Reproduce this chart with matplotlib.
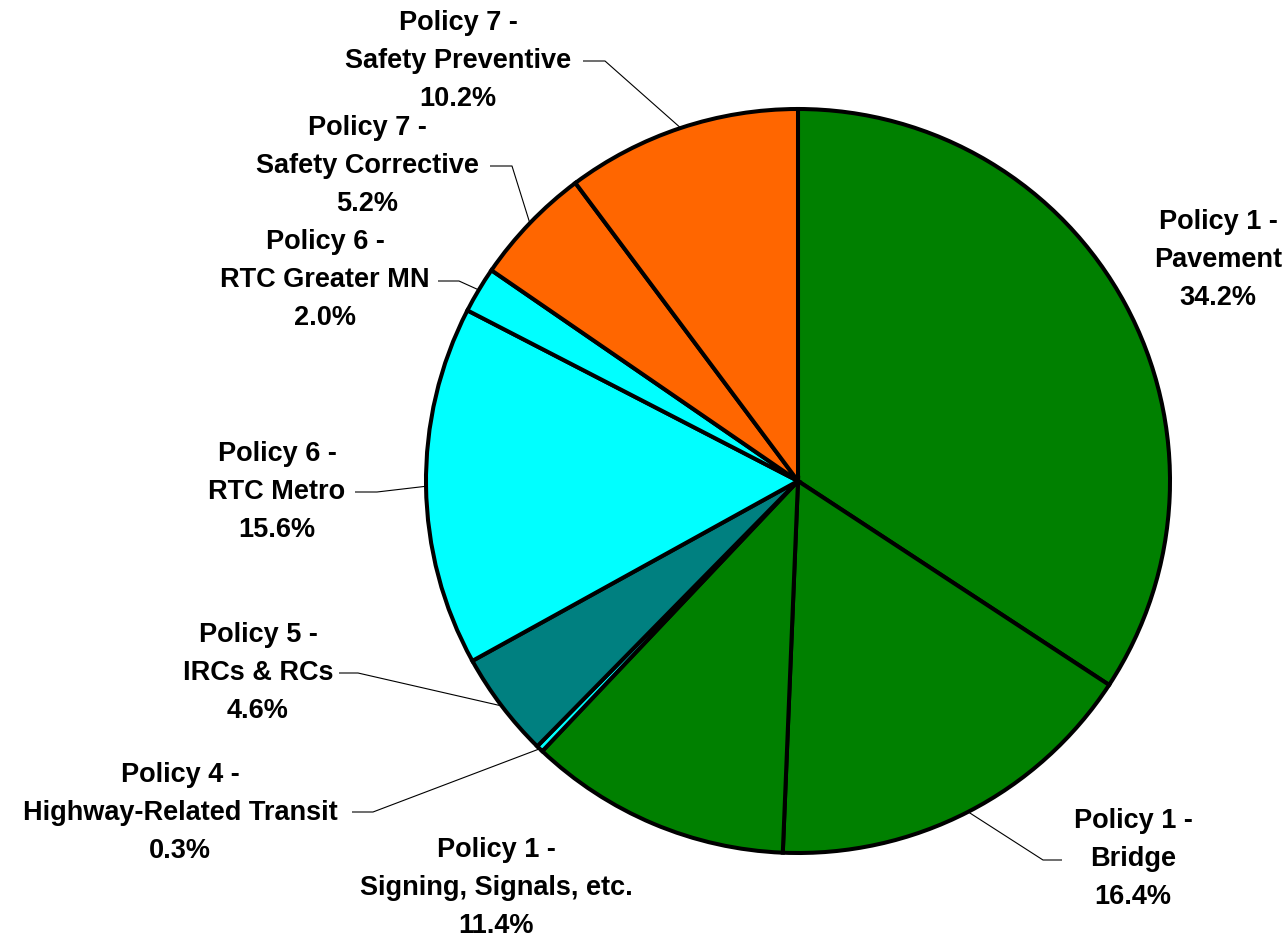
import numpy as np
import matplotlib
matplotlib.use('Agg')
import matplotlib.pyplot as plt

# data
names = ['Policy 1 -\nPavement', 'Policy 1 -\nBridge', 'Policy 1 -\nSigning, Signals, etc.',
         'Policy 4 -\nHighway-Related Transit', 'Policy 5 -\nIRCs & RCs', 'Policy 6 -\nRTC Metro',
         'Policy 6 -\nRTC Greater MN', 'Policy 7 -\nSafety Corrective', 'Policy 7 -\nSafety Preventive']
values = [34.2, 16.4, 11.4, 0.3, 4.6, 15.6, 2.0, 5.2, 10.2]
colors = ['#008000', '#008000', '#008000', '#00FFFF', '#008080', '#00FFFF',
          '#00FFFF', '#FF6600', '#FF6600']

# layout (image pixels, y from top)
W, H = 1286, 939
CX, CY, R = 798, 481, 372
label_pos = [(1218, 260), (1133, 859), (496, 888), (180, 813), (258, 673),
             (277, 492), (325, 280), (367, 166), (458, 61)]
# leader: (anchor at text, elbow) or None
leaders = [None, ((1062, 860), (1043, 860)), None, ((352, 812), (373, 812)),
           ((339, 673), (358, 673)), ((355, 492), (377, 492)), ((438, 281), (459, 281)),
           ((490, 166), (512, 166)), ((583, 61), (605, 61))]

fig = plt.figure(figsize=(W / 100, H / 100), dpi=100)
ax = fig.add_axes([0, 0, 1, 1])
ax.set_xlim(0, W)
ax.set_ylim(0, H)
ax.set_aspect('equal')
ax.axis('off')

wedges, _ = ax.pie(values, colors=colors, startangle=90, counterclock=False,
                   center=(CX, H - CY), radius=R,
                   wedgeprops=dict(edgecolor='black', linewidth=2.9))
ax.set_xlim(0, W)
ax.set_ylim(0, H)

for w, name, v, (lx, ly), ld in zip(wedges, names, values, label_pos, leaders):
    ax.text(lx, H - ly, f'{name}\n{v:.1f}%', ha='center', va='center',
            fontsize=19.5, fontweight='bold', family='Liberation Sans', linespacing=1.6)
    if ld is None:
        continue
    mid = np.deg2rad((w.theta1 + w.theta2) / 2)
    ex = CX + R * np.cos(mid)
    ey = (H - CY) + R * np.sin(mid)
    (ax0, ay0), (bx, by) = ld
    ax.plot([ax0, bx, ex], [H - ay0, H - by, ey], color='black', linewidth=0.8,
            solid_capstyle='butt', zorder=0.5)

fig.savefig('out.png', dpi=100)
